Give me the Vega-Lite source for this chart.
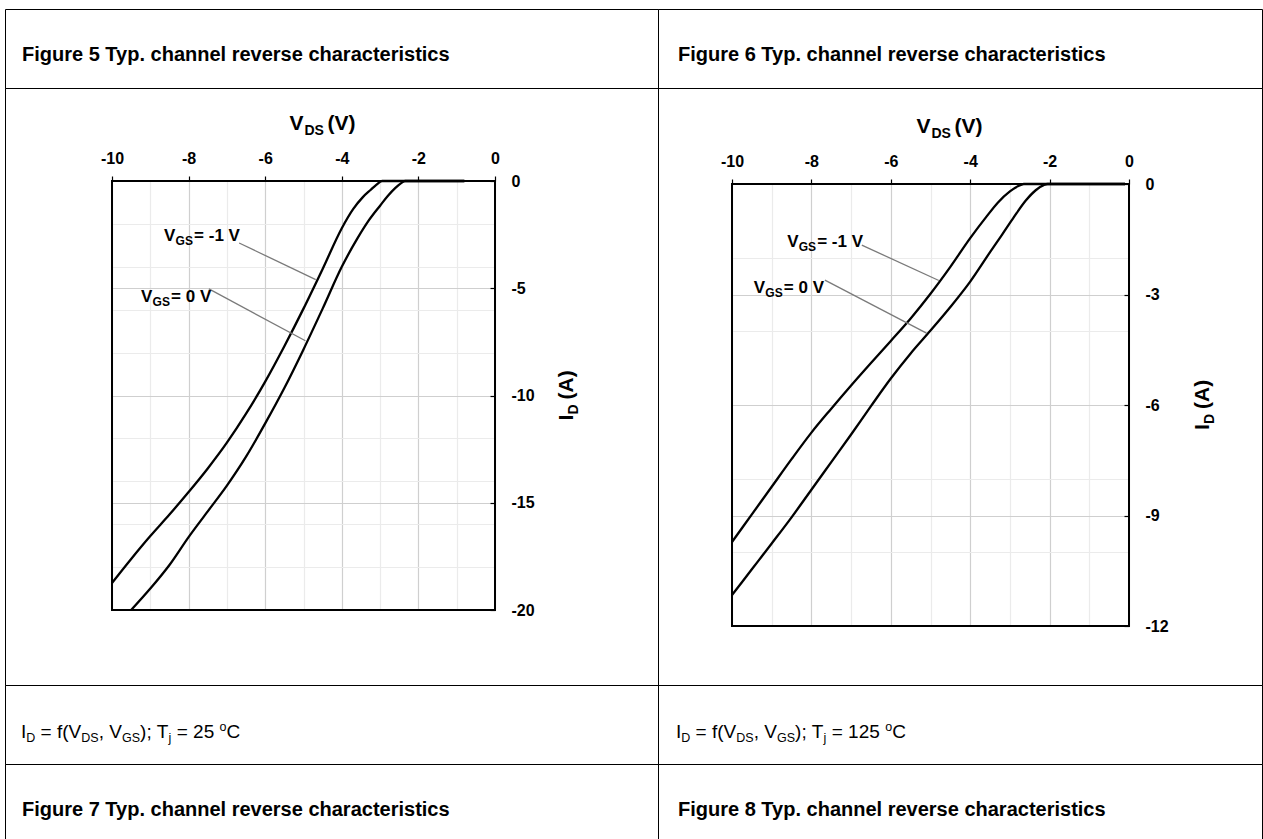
{
  "$schema": "https://vega.github.io/schema/vega-lite/v6.json",
  "padding": {"left": 4, "top": 8, "right": 0, "bottom": 0},
  "background": "white",
  "columns": 2,
  "spacing": 0,
  "bounds": "flush",
  "config": {
    "view": {"stroke": "black", "strokeWidth": 1},
    "font": "Liberation Sans",
    "text": {"color": "black", "font": "Liberation Sans"},
    "axis": {"labelFont": "Liberation Sans"}
  },
  "datasets": {
    "p1": [
      {"vgs": "-1 V", "vds": -10, "id": -18.74},
      {"vgs": "-1 V", "vds": -9.5, "id": -17.62},
      {"vgs": "-1 V", "vds": -9, "id": -16.55},
      {"vgs": "-1 V", "vds": -8.5, "id": -15.55},
      {"vgs": "-1 V", "vds": -8, "id": -14.5},
      {"vgs": "-1 V", "vds": -7.5, "id": -13.4},
      {"vgs": "-1 V", "vds": -7, "id": -12.2},
      {"vgs": "-1 V", "vds": -6.5, "id": -10.85},
      {"vgs": "-1 V", "vds": -6, "id": -9.35},
      {"vgs": "-1 V", "vds": -5.5, "id": -7.7},
      {"vgs": "-1 V", "vds": -5, "id": -5.95},
      {"vgs": "-1 V", "vds": -4.5, "id": -4.1},
      {"vgs": "-1 V", "vds": -4, "id": -2.2},
      {"vgs": "-1 V", "vds": -3.7, "id": -1.3},
      {"vgs": "-1 V", "vds": -3.45, "id": -0.75},
      {"vgs": "-1 V", "vds": -3.25, "id": -0.42},
      {"vgs": "-1 V", "vds": -3.1, "id": -0.18},
      {"vgs": "-1 V", "vds": -2.95, "id": 0},
      {"vgs": "-1 V", "vds": -0.8, "id": 0},
      {"vgs": "0 V", "vds": -9.5, "id": -20},
      {"vgs": "0 V", "vds": -9, "id": -19.0},
      {"vgs": "0 V", "vds": -8.5, "id": -17.9},
      {"vgs": "0 V", "vds": -8, "id": -16.6},
      {"vgs": "0 V", "vds": -7.5, "id": -15.4},
      {"vgs": "0 V", "vds": -7, "id": -14.2},
      {"vgs": "0 V", "vds": -6.5, "id": -12.85},
      {"vgs": "0 V", "vds": -6, "id": -11.3},
      {"vgs": "0 V", "vds": -5.5, "id": -9.65},
      {"vgs": "0 V", "vds": -5, "id": -7.85},
      {"vgs": "0 V", "vds": -4.5, "id": -5.95},
      {"vgs": "0 V", "vds": -4, "id": -4.0},
      {"vgs": "0 V", "vds": -3.6, "id": -2.7},
      {"vgs": "0 V", "vds": -3.3, "id": -1.85},
      {"vgs": "0 V", "vds": -3, "id": -1.15},
      {"vgs": "0 V", "vds": -2.8, "id": -0.7},
      {"vgs": "0 V", "vds": -2.6, "id": -0.32},
      {"vgs": "0 V", "vds": -2.45, "id": -0.1},
      {"vgs": "0 V", "vds": -2.35, "id": 0},
      {"vgs": "0 V", "vds": -0.8, "id": 0}
    ],
    "p2": [
      {"vgs": "-1 V", "vds": -10, "id": -9.72},
      {"vgs": "-1 V", "vds": -9.5, "id": -8.97},
      {"vgs": "-1 V", "vds": -9, "id": -8.22},
      {"vgs": "-1 V", "vds": -8.5, "id": -7.47},
      {"vgs": "-1 V", "vds": -8, "id": -6.75},
      {"vgs": "-1 V", "vds": -7.5, "id": -6.1},
      {"vgs": "-1 V", "vds": -7, "id": -5.47},
      {"vgs": "-1 V", "vds": -6.5, "id": -4.86},
      {"vgs": "-1 V", "vds": -6, "id": -4.26},
      {"vgs": "-1 V", "vds": -5.5, "id": -3.65},
      {"vgs": "-1 V", "vds": -5, "id": -2.98},
      {"vgs": "-1 V", "vds": -4.5, "id": -2.25},
      {"vgs": "-1 V", "vds": -4, "id": -1.47},
      {"vgs": "-1 V", "vds": -3.6, "id": -0.9},
      {"vgs": "-1 V", "vds": -3.3, "id": -0.5},
      {"vgs": "-1 V", "vds": -3, "id": -0.2},
      {"vgs": "-1 V", "vds": -2.8, "id": -0.06},
      {"vgs": "-1 V", "vds": -2.65, "id": 0},
      {"vgs": "-1 V", "vds": -0.1, "id": 0},
      {"vgs": "0 V", "vds": -10, "id": -11.16},
      {"vgs": "0 V", "vds": -9.5, "id": -10.46},
      {"vgs": "0 V", "vds": -9, "id": -9.76},
      {"vgs": "0 V", "vds": -8.5, "id": -9.05},
      {"vgs": "0 V", "vds": -8, "id": -8.3},
      {"vgs": "0 V", "vds": -7.5, "id": -7.55},
      {"vgs": "0 V", "vds": -7, "id": -6.8},
      {"vgs": "0 V", "vds": -6.5, "id": -6.03},
      {"vgs": "0 V", "vds": -6, "id": -5.28},
      {"vgs": "0 V", "vds": -5.5, "id": -4.6},
      {"vgs": "0 V", "vds": -5, "id": -3.98},
      {"vgs": "0 V", "vds": -4.5, "id": -3.34},
      {"vgs": "0 V", "vds": -4, "id": -2.65},
      {"vgs": "0 V", "vds": -3.5, "id": -1.85},
      {"vgs": "0 V", "vds": -3.2, "id": -1.38},
      {"vgs": "0 V", "vds": -2.9, "id": -0.9},
      {"vgs": "0 V", "vds": -2.6, "id": -0.45},
      {"vgs": "0 V", "vds": -2.35, "id": -0.17},
      {"vgs": "0 V", "vds": -2.15, "id": -0.03},
      {"vgs": "0 V", "vds": -2.05, "id": 0},
      {"vgs": "0 V", "vds": -0.1, "id": 0}
    ]
  },
  "concat": [
    {
      "width": 653, "height": 79,
      "view": {"stroke": "black", "strokeWidth": 1},
      "data": {"values": [{"heading": "Figure 5 Typ. channel reverse characteristics"}]},
      "mark": {"type": "text", "align": "left", "baseline": "alphabetic", "dx": -309.5, "dy": 12.5, "fontSize": 20, "fontWeight": "bold"},
      "encoding": {"text": {"field": "heading"}}
    },
    {
      "width": 604, "height": 79,
      "view": {"stroke": "black", "strokeWidth": 1},
      "data": {"values": [{"heading": "Figure 6 Typ. channel reverse characteristics"}]},
      "mark": {"type": "text", "align": "left", "baseline": "alphabetic", "dx": -282, "dy": 12.5, "fontSize": 20, "fontWeight": "bold"},
      "encoding": {"text": {"field": "heading"}}
    },
    {
      "width": 653, "height": 597,
      "data": {"values": [{}]},
      "layer": [
        {
          "mark": {"type": "rect", "filled": false, "stroke": "black", "strokeWidth": 2},
          "encoding": {
            "x": {"datum": -10, "type": "quantitative",
              "scale": {"domain": [-10, 0], "range": [107, 490], "nice": false, "zero": false},
              "axis": {"orient": "top", "offset": -93, "title": null,
                "values": [-10,-9.5,-9,-8.5,-8,-7.5,-7,-6.5,-6,-5.5,-5,-4.5,-4,-3.5,-3,-2.5,-2,-1.5,-1,-0.5,0],
                "grid": true,
                "gridColor": {"condition": {"test": "datum.value % 2 === 0", "value": "#cfcfcf"}, "value": "#ebebeb"},
                "gridWidth": 1.2,
                "domain": false, "ticks": true, "tickSize": 5, "tickColor": "black", "tickWidth": 1.2,
                "tickOpacity": {"condition": {"test": "datum.value % 2 === 0", "value": 1}, "value": 0},
                "labelExpr": "datum.value % 2 === 0 ? toString(datum.value) : ''",
                "labelFontSize": 16, "labelFontWeight": "bold", "labelColor": "black",
                "labelPadding": 10, "labelOverlap": false, "labelFlush": false}},
            "x2": {"datum": 0},
            "y": {"datum": 0, "type": "quantitative",
              "scale": {"domain": [-20, 0], "range": [522, 93], "nice": false, "zero": false},
              "axis": {"orient": "left", "offset": -490, "title": null,
                "values": [0,-2,-4,-5,-6,-8,-10,-12,-14,-15,-16,-18,-20],
                "grid": true,
                "gridColor": {"condition": {"test": "datum.value % 5 === 0", "value": "#cfcfcf"}, "value": "#ebebeb"},
                "gridWidth": 1.2,
                "domain": false, "ticks": true, "tickSize": 5, "tickColor": "black", "tickWidth": 1.2,
                "tickOpacity": {"condition": {"test": "datum.value % 5 === 0", "value": 1}, "value": 0},
                "labelExpr": "datum.value % 5 === 0 ? toString(datum.value) : ''",
                "labelAlign": "left",
                "labelFontSize": 16, "labelFontWeight": "bold", "labelColor": "black",
                "labelPadding": -21, "labelOverlap": false, "labelFlush": false}},
            "y2": {"datum": -20}
          }
        },
        {
          "data": {"name": "p1"},
          "mark": {"type": "line", "stroke": "black", "strokeWidth": 2.3, "interpolate": "monotone"},
          "encoding": {
            "x": {"field": "vds", "type": "quantitative"},
            "y": {"field": "id", "type": "quantitative"},
            "detail": {"field": "vgs"}
          }
        },
        {
          "mark": {"type": "rule", "stroke": "#7a7a7a", "strokeWidth": 1.3},
          "encoding": {"x": {"datum": -6.68}, "y": {"datum": -2.89}, "x2": {"datum": -4.68}, "y2": {"datum": -4.6}}
        },
        {
          "mark": {"type": "rule", "stroke": "#7a7a7a", "strokeWidth": 1.3},
          "encoding": {"x": {"datum": -7.47}, "y": {"datum": -5.03}, "x2": {"datum": -4.95}, "y2": {"datum": -7.45}}
        },
        {"mark": {"type": "text", "text": "V", "align": "left", "baseline": "alphabetic", "fontSize": 17, "fontWeight": "bold"},
         "encoding": {"x": {"datum": -8.64}, "y": {"datum": -2.8}}},
        {"mark": {"type": "text", "text": "GS", "align": "left", "baseline": "alphabetic", "fontSize": 12, "fontWeight": "bold", "dx": 11.5, "dy": 4},
         "encoding": {"x": {"datum": -8.64}, "y": {"datum": -2.8}}},
        {"mark": {"type": "text", "text": "= -1 V", "align": "left", "baseline": "alphabetic", "fontSize": 17, "fontWeight": "bold", "dx": 30},
         "encoding": {"x": {"datum": -8.64}, "y": {"datum": -2.8}}},
        {"mark": {"type": "text", "text": "V", "align": "left", "baseline": "alphabetic", "fontSize": 17, "fontWeight": "bold"},
         "encoding": {"x": {"datum": -9.24}, "y": {"datum": -5.64}}},
        {"mark": {"type": "text", "text": "GS", "align": "left", "baseline": "alphabetic", "fontSize": 12, "fontWeight": "bold", "dx": 11.5, "dy": 4},
         "encoding": {"x": {"datum": -9.24}, "y": {"datum": -5.64}}},
        {"mark": {"type": "text", "text": "= 0 V", "align": "left", "baseline": "alphabetic", "fontSize": 17, "fontWeight": "bold", "dx": 30},
         "encoding": {"x": {"datum": -9.24}, "y": {"datum": -5.64}}},
        {"mark": {"type": "text", "text": "V", "align": "right", "baseline": "alphabetic", "fontSize": 21, "fontWeight": "bold", "dy": -51},
         "encoding": {"x": {"datum": -5}, "y": {"datum": 0}}},
        {"mark": {"type": "text", "text": "DS", "align": "left", "baseline": "alphabetic", "fontSize": 14, "fontWeight": "bold", "dx": 1, "dy": -46},
         "encoding": {"x": {"datum": -5}, "y": {"datum": 0}}},
        {"mark": {"type": "text", "text": "(V)", "align": "left", "baseline": "alphabetic", "fontSize": 21, "fontWeight": "bold", "dx": 24, "dy": -51},
         "encoding": {"x": {"datum": -5}, "y": {"datum": 0}}},
        {"mark": {"type": "text", "text": "I", "align": "left", "baseline": "alphabetic", "angle": 270, "fontSize": 21, "fontWeight": "bold", "dx": -25, "dy": 78},
         "encoding": {"x": {"datum": 0}, "y": {"datum": -10}}},
        {"mark": {"type": "text", "text": "D", "align": "left", "baseline": "alphabetic", "angle": 270, "fontSize": 14, "fontWeight": "bold", "dx": -19, "dy": 83},
         "encoding": {"x": {"datum": 0}, "y": {"datum": -10}}},
        {"mark": {"type": "text", "text": "(A)", "align": "left", "baseline": "alphabetic", "angle": 270, "fontSize": 21, "fontWeight": "bold", "dx": -4, "dy": 78},
         "encoding": {"x": {"datum": 0}, "y": {"datum": -10}}}
      ]
    },
    {
      "width": 604, "height": 597,
      "data": {"values": [{}]},
      "layer": [
        {
          "mark": {"type": "rect", "filled": false, "stroke": "black", "strokeWidth": 2},
          "encoding": {
            "x": {"datum": -10, "type": "quantitative",
              "scale": {"domain": [-10, 0], "range": [74, 471], "nice": false, "zero": false},
              "axis": {"orient": "top", "offset": -96, "title": null,
                "values": [-10,-9.5,-9,-8.5,-8,-7.5,-7,-6.5,-6,-5.5,-5,-4.5,-4,-3.5,-3,-2.5,-2,-1.5,-1,-0.5,0],
                "grid": true,
                "gridColor": {"condition": {"test": "datum.value % 2 === 0", "value": "#cfcfcf"}, "value": "#ebebeb"},
                "gridWidth": 1.2,
                "domain": false, "ticks": true, "tickSize": 5, "tickColor": "black", "tickWidth": 1.2,
                "tickOpacity": {"condition": {"test": "datum.value % 2 === 0", "value": 1}, "value": 0},
                "labelExpr": "datum.value % 2 === 0 ? toString(datum.value) : ''",
                "labelFontSize": 16, "labelFontWeight": "bold", "labelColor": "black",
                "labelPadding": 10, "labelOverlap": false, "labelFlush": false}},
            "x2": {"datum": 0},
            "y": {"datum": 0, "type": "quantitative",
              "scale": {"domain": [-12, 0], "range": [538, 96], "nice": false, "zero": false},
              "axis": {"orient": "left", "offset": -471, "title": null,
                "values": [0,-2,-3,-4,-6,-8,-9,-10,-12],
                "grid": true,
                "gridColor": {"condition": {"test": "datum.value % 3 === 0", "value": "#cfcfcf"}, "value": "#ebebeb"},
                "gridWidth": 1.2,
                "domain": false, "ticks": true, "tickSize": 5, "tickColor": "black", "tickWidth": 1.2,
                "tickOpacity": {"condition": {"test": "datum.value % 3 === 0", "value": 1}, "value": 0},
                "labelExpr": "datum.value % 3 === 0 ? toString(datum.value) : ''",
                "labelAlign": "left",
                "labelFontSize": 16, "labelFontWeight": "bold", "labelColor": "black",
                "labelPadding": -21, "labelOverlap": false, "labelFlush": false}},
            "y2": {"datum": -12}
          }
        },
        {
          "data": {"name": "p2"},
          "mark": {"type": "line", "stroke": "black", "strokeWidth": 2.3, "interpolate": "monotone"},
          "encoding": {
            "x": {"field": "vds", "type": "quantitative"},
            "y": {"field": "id", "type": "quantitative"},
            "detail": {"field": "vgs"}
          }
        },
        {
          "mark": {"type": "rule", "stroke": "#7a7a7a", "strokeWidth": 1.3},
          "encoding": {"x": {"datum": -6.73}, "y": {"datum": -1.66}, "x2": {"datum": -4.79}, "y2": {"datum": -2.62}}
        },
        {
          "mark": {"type": "rule", "stroke": "#7a7a7a", "strokeWidth": 1.3},
          "encoding": {"x": {"datum": -7.66}, "y": {"datum": -2.61}, "x2": {"datum": -5.1}, "y2": {"datum": -4.05}}
        },
        {"mark": {"type": "text", "text": "V", "align": "left", "baseline": "alphabetic", "fontSize": 17, "fontWeight": "bold"},
         "encoding": {"x": {"datum": -8.61}, "y": {"datum": -1.71}}},
        {"mark": {"type": "text", "text": "GS", "align": "left", "baseline": "alphabetic", "fontSize": 12, "fontWeight": "bold", "dx": 11.5, "dy": 4},
         "encoding": {"x": {"datum": -8.61}, "y": {"datum": -1.71}}},
        {"mark": {"type": "text", "text": "= -1 V", "align": "left", "baseline": "alphabetic", "fontSize": 17, "fontWeight": "bold", "dx": 30},
         "encoding": {"x": {"datum": -8.61}, "y": {"datum": -1.71}}},
        {"mark": {"type": "text", "text": "V", "align": "left", "baseline": "alphabetic", "fontSize": 17, "fontWeight": "bold"},
         "encoding": {"x": {"datum": -9.45}, "y": {"datum": -2.96}}},
        {"mark": {"type": "text", "text": "GS", "align": "left", "baseline": "alphabetic", "fontSize": 12, "fontWeight": "bold", "dx": 11.5, "dy": 4},
         "encoding": {"x": {"datum": -9.45}, "y": {"datum": -2.96}}},
        {"mark": {"type": "text", "text": "= 0 V", "align": "left", "baseline": "alphabetic", "fontSize": 17, "fontWeight": "bold", "dx": 30},
         "encoding": {"x": {"datum": -9.45}, "y": {"datum": -2.96}}},
        {"mark": {"type": "text", "text": "V", "align": "right", "baseline": "alphabetic", "fontSize": 21, "fontWeight": "bold", "dy": -51.5},
         "encoding": {"x": {"datum": -5}, "y": {"datum": 0}}},
        {"mark": {"type": "text", "text": "DS", "align": "left", "baseline": "alphabetic", "fontSize": 14, "fontWeight": "bold", "dx": 1, "dy": -46.5},
         "encoding": {"x": {"datum": -5}, "y": {"datum": 0}}},
        {"mark": {"type": "text", "text": "(V)", "align": "left", "baseline": "alphabetic", "fontSize": 21, "fontWeight": "bold", "dx": 24, "dy": -51.5},
         "encoding": {"x": {"datum": -5}, "y": {"datum": 0}}},
        {"mark": {"type": "text", "text": "I", "align": "left", "baseline": "alphabetic", "angle": 270, "fontSize": 21, "fontWeight": "bold", "dx": -25, "dy": 80},
         "encoding": {"x": {"datum": 0}, "y": {"datum": -6}}},
        {"mark": {"type": "text", "text": "D", "align": "left", "baseline": "alphabetic", "angle": 270, "fontSize": 14, "fontWeight": "bold", "dx": -19, "dy": 85},
         "encoding": {"x": {"datum": 0}, "y": {"datum": -6}}},
        {"mark": {"type": "text", "text": "(A)", "align": "left", "baseline": "alphabetic", "angle": 270, "fontSize": 21, "fontWeight": "bold", "dx": -4, "dy": 80},
         "encoding": {"x": {"datum": 0}, "y": {"datum": -6}}}
      ]
    },
    {
      "width": 653, "height": 79,
      "view": {"stroke": "black", "strokeWidth": 1},
      "data": {"values": [{}]},
      "layer": [
        {"mark": {"type": "text", "text": "I", "align": "left", "baseline": "alphabetic", "fontSize": 19, "dx": -310.5, "dy": 13.5}},
        {"mark": {"type": "text", "text": "D", "align": "left", "baseline": "alphabetic", "fontSize": 12.5, "dx": -305.2, "dy": 17.5}},
        {"mark": {"type": "text", "text": "= f(", "align": "left", "baseline": "alphabetic", "fontSize": 19, "dx": -290.9, "dy": 13.5}},
        {"mark": {"type": "text", "text": "V", "align": "left", "baseline": "alphabetic", "fontSize": 19, "dx": -262.9, "dy": 13.5}},
        {"mark": {"type": "text", "text": "DS", "align": "left", "baseline": "alphabetic", "fontSize": 12.5, "dx": -250.2, "dy": 17.5}},
        {"mark": {"type": "text", "text": ", V", "align": "left", "baseline": "alphabetic", "fontSize": 19, "dx": -232.8, "dy": 13.5}},
        {"mark": {"type": "text", "text": "GS", "align": "left", "baseline": "alphabetic", "fontSize": 12.5, "dx": -209.5, "dy": 17.5}},
        {"mark": {"type": "text", "text": "); T", "align": "left", "baseline": "alphabetic", "fontSize": 19, "dx": -191.4, "dy": 13.5}},
        {"mark": {"type": "text", "text": "j", "align": "left", "baseline": "alphabetic", "fontSize": 12.5, "dx": -162.9, "dy": 17.5}},
        {"mark": {"type": "text", "text": "= 25", "align": "left", "baseline": "alphabetic", "fontSize": 19, "dx": -154.8, "dy": 13.5}},
        {"mark": {"type": "text", "text": "o", "align": "left", "baseline": "alphabetic", "fontSize": 12.5, "dx": -111.9, "dy": 6.5}},
        {"mark": {"type": "text", "text": "C", "align": "left", "baseline": "alphabetic", "fontSize": 19, "dx": -104.9, "dy": 13.5}}
      ]
    },
    {
      "width": 604, "height": 79,
      "view": {"stroke": "black", "strokeWidth": 1},
      "data": {"values": [{}]},
      "layer": [
        {"mark": {"type": "text", "text": "I", "align": "left", "baseline": "alphabetic", "fontSize": 19, "dx": -284, "dy": 13.5}},
        {"mark": {"type": "text", "text": "D", "align": "left", "baseline": "alphabetic", "fontSize": 12.5, "dx": -278.7, "dy": 17.5}},
        {"mark": {"type": "text", "text": "= f(", "align": "left", "baseline": "alphabetic", "fontSize": 19, "dx": -264.4, "dy": 13.5}},
        {"mark": {"type": "text", "text": "V", "align": "left", "baseline": "alphabetic", "fontSize": 19, "dx": -236.4, "dy": 13.5}},
        {"mark": {"type": "text", "text": "DS", "align": "left", "baseline": "alphabetic", "fontSize": 12.5, "dx": -223.7, "dy": 17.5}},
        {"mark": {"type": "text", "text": ", V", "align": "left", "baseline": "alphabetic", "fontSize": 19, "dx": -206.3, "dy": 13.5}},
        {"mark": {"type": "text", "text": "GS", "align": "left", "baseline": "alphabetic", "fontSize": 12.5, "dx": -183, "dy": 17.5}},
        {"mark": {"type": "text", "text": "); T", "align": "left", "baseline": "alphabetic", "fontSize": 19, "dx": -164.9, "dy": 13.5}},
        {"mark": {"type": "text", "text": "j", "align": "left", "baseline": "alphabetic", "fontSize": 12.5, "dx": -136.4, "dy": 17.5}},
        {"mark": {"type": "text", "text": "= 125", "align": "left", "baseline": "alphabetic", "fontSize": 19, "dx": -128.3, "dy": 13.5}},
        {"mark": {"type": "text", "text": "o", "align": "left", "baseline": "alphabetic", "fontSize": 12.5, "dx": -74.8, "dy": 6.5}},
        {"mark": {"type": "text", "text": "C", "align": "left", "baseline": "alphabetic", "fontSize": 19, "dx": -67.8, "dy": 13.5}}
      ]
    },
    {
      "width": 653, "height": 90,
      "view": {"stroke": "black", "strokeWidth": 1},
      "data": {"values": [{"heading": "Figure 7 Typ. channel reverse characteristics"}]},
      "mark": {"type": "text", "align": "left", "baseline": "alphabetic", "dx": -309.5, "dy": 7, "fontSize": 20, "fontWeight": "bold"},
      "encoding": {"text": {"field": "heading"}}
    },
    {
      "width": 604, "height": 90,
      "view": {"stroke": "black", "strokeWidth": 1},
      "data": {"values": [{"heading": "Figure 8 Typ. channel reverse characteristics"}]},
      "mark": {"type": "text", "align": "left", "baseline": "alphabetic", "dx": -282, "dy": 7, "fontSize": 20, "fontWeight": "bold"},
      "encoding": {"text": {"field": "heading"}}
    }
  ]
}
